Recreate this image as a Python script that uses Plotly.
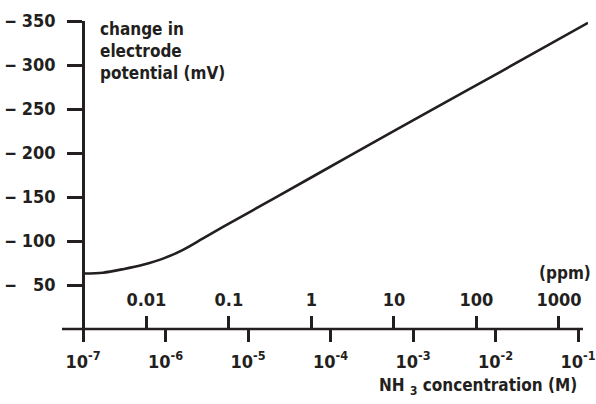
import plotly.graph_objects as go

# Curve: NH3 concentration (M) vs change in electrode potential (mV)
conc_M = [1.0e-7, 1.746e-7, 3.055e-7, 5.333e-7, 9.33e-7, 1.63e-6, 2.851e-6,
          4.977e-6, 2.123e-5, 1.722e-4, 1.607e-3, 1.135e-2, 1.321e-1]
potential_mV = [63, 64, 68, 73, 80, 90, 103, 116, 149, 197, 248, 292, 348]

# Y ticks
y_tickvals = [50, 100, 150, 200, 250, 300, 350]
y_ticktext = ["\u2012 \u200750", "\u2012 100", "\u2012 150", "\u2012 200",
              "\u2012 250", "\u2012 300", "\u2012 350"]

# Molar ticks (bottom)
m_tickvals = [1e-7, 1e-6, 1e-5, 1e-4, 1e-3, 1e-2, 1e-1]
m_ticktext = ["10<sup>-7</sup>", "10<sup>-6</sup>", "10<sup>-5</sup>", "10<sup>-4</sup>",
              "10<sup>-3</sup>", "10<sup>-2</sup>", "10<sup>-1</sup>"]

# ppm ticks (NH3, 1 ppm = 1 mg/L = 1/17031 M)
ppm_values = [0.01, 0.1, 1, 10, 100, 1000]
ppm_labels = ["0.01", "0.1", "1", "10", "100", "1000"]
NH3_MG_PER_MOL = 17031.0
ppm_tickvals = [p / NH3_MG_PER_MOL for p in ppm_values]

INK = "#231f20"
FONT = "DejaVu Sans Condensed, Liberation Sans Narrow, Arial Narrow, sans-serif"

x_range = [-7.2545, -0.8788]
TICKFONT = dict(family=FONT, size=18, color=INK, weight="bold")

fig = go.Figure()
fig.add_trace(go.Scatter(
    x=conc_M, y=potential_mV, mode="lines",
    line=dict(color=INK, width=2.6, shape="spline", smoothing=0.8),
    hoverinfo="skip", showlegend=False,
))
# invisible trace so the ppm axis is drawn
fig.add_trace(go.Scatter(
    x=ppm_tickvals, y=[None] * len(ppm_tickvals), xaxis="x2", yaxis="y",
    mode="markers", marker=dict(opacity=0), showlegend=False, hoverinfo="skip",
))

fig.update_layout(
    width=596, height=404,
    margin=dict(l=62, r=8, t=21, b=75),
    paper_bgcolor="white", plot_bgcolor="white",
    font=dict(family=FONT, size=18, color=INK, weight="bold"),
    showlegend=False,
    xaxis=dict(
        type="log", range=x_range, showgrid=False, zeroline=False, showline=False,
        automargin=False,
        ticks="outside", ticklen=12, tickwidth=2.5, tickcolor=INK,
        ticklabelstandoff=4,
        tickvals=m_tickvals, ticktext=m_ticktext, tickfont=TICKFONT,
    ),
    xaxis2=dict(
        type="log", range=x_range, overlaying="x", anchor="free", position=0,
        side="top", showgrid=False, zeroline=False, showline=False, automargin=False,
        ticks="outside", ticklen=13, tickwidth=2.5, tickcolor=INK,
        ticklabelstandoff=3,
        tickvals=ppm_tickvals, ticktext=ppm_labels, tickfont=TICKFONT,
    ),
    yaxis=dict(
        range=[0, 350], anchor="free", position=(83 - 62) / 526, automargin=False,
        showgrid=False, zeroline=False, showline=True, linewidth=2.5, linecolor=INK,
        ticks="outside", ticklen=15, tickwidth=2.5, tickcolor=INK,
        ticklabelstandoff=8,
        tickvals=y_tickvals, ticktext=y_ticktext, tickfont=TICKFONT,
    ),
    shapes=[dict(type="line", xref="paper", yref="paper",
                 x0=0, x1=(583 - 62) / 526, y0=0, y1=0,
                 line=dict(color=INK, width=2.5))],
    annotations=[
        dict(text="change in<br>electrode<br>potential (mV)", xref="paper", yref="paper",
             x=(98 - 62) / 526, y=(329 - 17) / 308, xanchor="left", yanchor="top",
             align="left", showarrow=False,
             font=dict(family=FONT, size=17, color=INK, weight="bold")),
        dict(text="(ppm)", xref="paper", yref="paper",
             x=(565 - 62) / 526, y=(329 - 273) / 308, xanchor="center", yanchor="middle",
             showarrow=False, font=dict(family=FONT, size=17, color=INK, weight="bold")),
        dict(text="NH <sub>3</sub> concentration (M)", xref="paper", yref="paper",
             x=(478 - 62) / 526, y=(329 - 387) / 308, xanchor="center", yanchor="middle",
             showarrow=False, font=dict(family=FONT, size=17, color=INK, weight="bold")),
    ],
)

fig.write_html("out.html", config={"displayModeBar": False},
               post_script="document.body.style.margin='0px';")
